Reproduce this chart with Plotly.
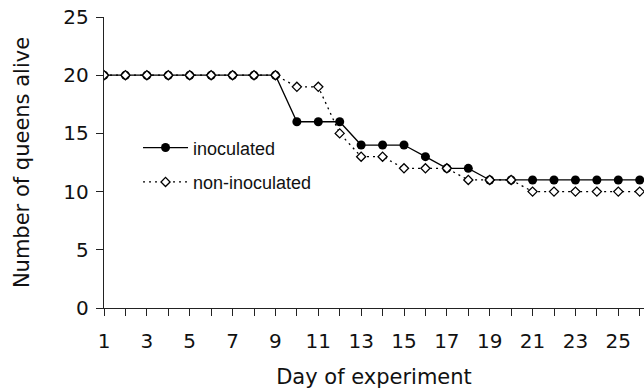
import plotly.graph_objects as go

days = list(range(1, 27))
inoculated = [20, 20, 20, 20, 20, 20, 20, 20, 20, 16, 16, 16, 14, 14, 14, 13, 12, 12, 11, 11, 11, 11, 11, 11, 11, 11]
non_inoculated = [20, 20, 20, 20, 20, 20, 20, 20, 20, 19, 19, 15, 13, 13, 12, 12, 12, 11, 11, 11, 10, 10, 10, 10, 10, 10]
x_tick_vals = days
x_tick_text = [str(d) if d % 2 == 1 else "" for d in days]
y_tick_vals = [0, 5, 10, 15, 20, 25]

WIDE = "DejaVu Sans, Verdana, sans-serif"
ARIAL = "Liberation Sans, Arial, sans-serif"
fig = go.Figure()
fig.add_trace(go.Scatter(
    x=days, y=inoculated, name="inoculated", mode="lines+markers",
    line=dict(color="black", width=1.3),
    marker=dict(symbol="circle", size=9, color="black", line=dict(color="black", width=0)),
    legendgroup="a",
))
fig.add_trace(go.Scatter(
    x=days, y=non_inoculated, name="non-inoculated", mode="lines+markers",
    line=dict(color="black", width=1.3, dash="2px,4px"),
    marker=dict(symbol="diamond", size=7, color="white", line=dict(color="black", width=1.3)),
    legendgroup="b",
))

fig.update_layout(
    width=644, height=392,
    margin=dict(l=104, r=0, t=17, b=84),
    paper_bgcolor="white", plot_bgcolor="white",
    font=dict(family=WIDE, size=20, color="#111111"),
    showlegend=True,
    legend=dict(x=0.063, y=0.614, xanchor="left", yanchor="top",
                font=dict(family=ARIAL, size=18, color="#111111"),
                bgcolor="rgba(0,0,0,0)", itemwidth=45,
                tracegroupgap=8),
    xaxis=dict(range=[1, 26.2], tickvals=x_tick_vals, ticktext=x_tick_text,
               automargin=False,
               ticks="outside", ticklen=7, tickwidth=1.4, tickcolor="#222222",
               ticklabelstandoff=8,
               showline=True, linecolor="#222222", linewidth=1.4,
               showgrid=False, zeroline=False,
               title=dict(text="Day of experiment", font=dict(size=21), standoff=17)),
    yaxis=dict(range=[0, 25], tickvals=y_tick_vals,
               automargin=False,
               ticks="outside", ticklen=7, tickwidth=1.4, tickcolor="#222222",
               ticklabelstandoff=3,
               showline=True, linecolor="#222222", linewidth=1.4,
               showgrid=False, zeroline=False,
               title=dict(text="Number of queens alive", font=dict(size=21), standoff=27)),
)

# remove the browser's default 8px body margin so the figure fills the window exactly
fig.write_html("out.html", config={"displayModeBar": False},
               post_script="document.body.style.margin='0';")
